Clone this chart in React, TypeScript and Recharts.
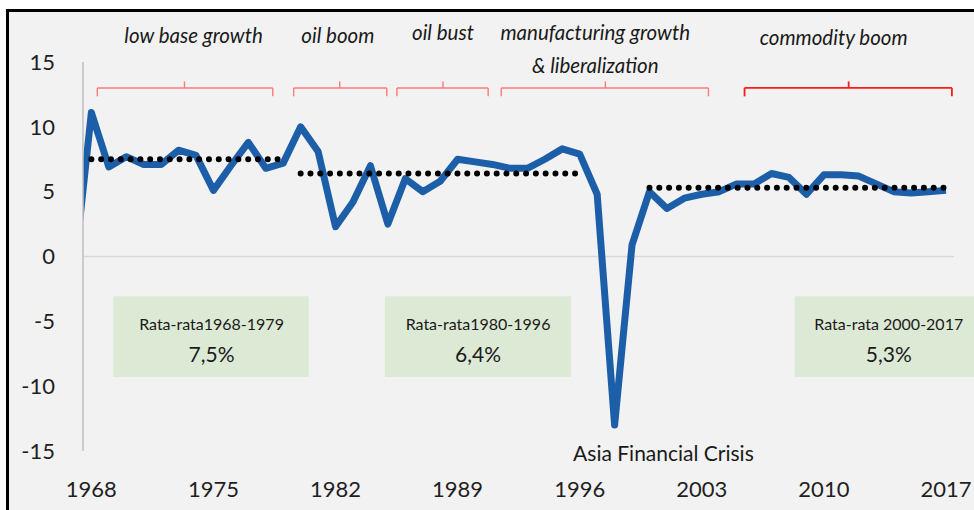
import React from 'react';
import { LineChart, Line, XAxis, YAxis, ReferenceLine, ReferenceArea, ReferenceDot } from 'recharts';

// GDP growth (%), annual
const years = [
  1967, 1968, 1969, 1970, 1971, 1972, 1973, 1974, 1975, 1976, 1977, 1978, 1979,
  1980, 1981, 1982, 1983, 1984, 1985, 1986, 1987, 1988, 1989, 1990, 1991, 1992,
  1993, 1994, 1995, 1996, 1997, 1998, 1999, 2000, 2001, 2002, 2003, 2004, 2005,
  2006, 2007, 2008, 2009, 2010, 2011, 2012, 2013, 2014, 2015, 2016, 2017,
];
const growth = [
  -1.4, 11.1, 6.9, 7.7, 7.1, 7.1, 8.2, 7.8, 5.1, 7.0, 8.8, 6.8, 7.2,
  10.0, 8.1, 2.3, 4.2, 7.0, 2.5, 6.0, 5.0, 5.8, 7.5, 7.3, 7.1, 6.8,
  6.8, 7.5, 8.3, 7.9, 4.8, -13.0, 0.9, 5.0, 3.7, 4.5, 4.8, 5.0, 5.6,
  5.6, 6.4, 6.1, 4.8, 6.3, 6.3, 6.2, 5.6, 5.0, 4.9, 5.0, 5.1,
];

// period averages
const avgPeriods = [[1968, 1979], [1980, 1996], [2000, 2017]];
const avgValues = [7.5, 6.4, 5.3];
const avgTitles = ['Rata-rata1968-1979', 'Rata-rata1980-1996', 'Rata-rata 2000-2017'];
const avgTexts = ['7,5%', '6,4%', '5,3%'];

// eras above the chart
const eraNames = ['low base growth', 'oil boom', 'oil bust', 'manufacturing growth', 'commodity boom'];
const crisisLabel = 'Asia Financial Crisis';

const xTicks = [1968, 1975, 1982, 1989, 1996, 2003, 2010, 2017];
const yTicks = [-15, -10, -5, 0, 5, 10, 15];

const data = years.map((year, i) => {
  const row: any = { year, growth: growth[i] };
  avgPeriods.forEach(([from, to], k) => {
    row['avg' + k] = year >= from && year <= to ? avgValues[k] : null;
  });
  return row;
});

// annotation placement (data coordinates)
const eraLayout = [
  { x: 1973.86, y: 17.1, from: 1968.34, to: 1978.4, mid: 1973.34 },
  { x: 1982.13, y: 17.1, from: 1979.6, to: 1984.94, mid: 1982.24 },
  { x: 1988.16, y: 17.3, from: 1985.52, to: 1990.75, mid: 1988.16 },
  { x: 1996.89, y: 17.3, from: 1991.5, to: 2003.38, mid: 1997.47 },
  { x: 2010.56, y: 16.9, from: 2005.45, to: 2017.34, mid: 2011.42 },
];
const boxLayout = [
  { x1: 1969.26, x2: 1980.46, cx: 1974.89 },
  { x1: 1984.83, x2: 1995.51, cx: 1990.17 },
  { x1: 2008.32, x2: 2018.7, cx: 2013.72 },
];

const FONT = 'Lato, "Open Sans", sans-serif';
const TEXT = '#1a1a1a';

const textShape = (label: string, size: number, italic = false) => (p: any) => (
  <text
    x={p.cx}
    y={p.cy}
    textAnchor="middle"
    dominantBaseline="central"
    fontFamily={FONT}
    fontSize={size}
    fontStyle={italic ? 'italic' : 'normal'}
    fill={TEXT}
  >
    {label}
  </text>
);

export default function App() {
  return (
    <div style={{ position: 'absolute', left: 0, top: 0, width: 974, height: 510, background: '#fff', overflow: 'hidden' }}>
      <div
        style={{
          position: 'absolute',
          left: 6,
          top: 9,
          width: 1000,
          height: 540,
          background: '#f2f2f2',
          borderLeft: '3px solid #000',
          borderTop: '3px solid #000',
        }}
      />
      <div style={{ position: 'absolute', left: 0, top: 0 }}>
        <LineChart width={974} height={510} data={data} margin={{ top: 62, right: 20, bottom: 19, left: 0 }}>
          <XAxis
            dataKey="year"
            type="number"
            domain={[1967.52, 2017.46]}
            allowDataOverflow
            ticks={xTicks}
            axisLine={false}
            tickLine={false}
            tickSize={0}
            tickMargin={30}
            height={40}
            tick={{ fontFamily: FONT, fontSize: 22, fill: '#1f1f1f' }}
          />
          <YAxis
            type="number"
            domain={[-15, 15]}
            ticks={yTicks}
            width={83}
            axisLine={{ stroke: '#bfbfbf', strokeWidth: 1.5 }}
            tickLine={false}
            tickSize={0}
            tickMargin={28}
            tick={{ fontFamily: FONT, fontSize: 22, fill: '#1f1f1f' }}
          />
          <ReferenceLine y={0} stroke="#d9d9d9" strokeWidth={1.5} />

          {boxLayout.map((b, k) => (
            <ReferenceArea
              key={'box' + k}
              x1={b.x1}
              x2={b.x2}
              y1={-3.06}
              y2={-9.3}
              fill="#dce9d5"
              fillOpacity={1}
              stroke="none"
              ifOverflow="visible"
            />
          ))}

          {eraLayout.map((e, k) => {
            const color = k === 4 ? '#ff1a1a' : '#ff7a7a';
            const w = k === 4 ? 1.8 : 1.4;
            return [
              <ReferenceLine key={'bh' + k} segment={[{ x: e.from, y: 13.0 }, { x: e.to, y: 13.0 }]} stroke={color} strokeWidth={w} />,
              <ReferenceLine key={'bl' + k} segment={[{ x: e.from, y: 13.0 }, { x: e.from, y: 12.35 }]} stroke={color} strokeWidth={w} />,
              <ReferenceLine key={'br' + k} segment={[{ x: e.to, y: 13.0 }, { x: e.to, y: 12.35 }]} stroke={color} strokeWidth={w} />,
              <ReferenceLine key={'bm' + k} segment={[{ x: e.mid, y: 13.0 }, { x: e.mid, y: 13.5 }]} stroke={color} strokeWidth={w} />,
            ];
          })}

          <Line
            dataKey="growth"
            type="linear"
            stroke="#1c5fa8"
            strokeWidth={7}
            strokeLinejoin="round"
            dot={false}
            activeDot={false}
            isAnimationActive={false}
          />
          {avgValues.map((_, k) => (
            <Line
              key={'avg' + k}
              dataKey={'avg' + k}
              type="linear"
              stroke="#000"
              strokeWidth={6}
              strokeDasharray="0 9.8"
              strokeLinecap="round"
              dot={false}
              activeDot={false}
              connectNulls={false}
              isAnimationActive={false}
            />
          ))}

          {eraLayout.map((e, k) => (
            <ReferenceDot key={'era' + k} x={e.x} y={e.y} r={0} ifOverflow="visible" shape={textShape(eraNames[k], 20.5, true)} />
          ))}
          <ReferenceDot x={1996.89} y={14.8} r={0} ifOverflow="visible" shape={textShape('& liberalization', 20.5, true)} />

          {boxLayout.map((b, k) => [
            <ReferenceDot key={'bt' + k} x={b.cx} y={-5.14} r={0} ifOverflow="visible" shape={textShape(avgTitles[k], 16)} />,
            <ReferenceDot key={'bv' + k} x={b.cx} y={-7.45} r={0} ifOverflow="visible" shape={textShape(avgTexts[k], 21)} />,
          ])}

          <ReferenceDot x={2000.8} y={-15.15} r={0} ifOverflow="visible" shape={textShape(crisisLabel, 21)} />
        </LineChart>
      </div>
    </div>
  );
}
